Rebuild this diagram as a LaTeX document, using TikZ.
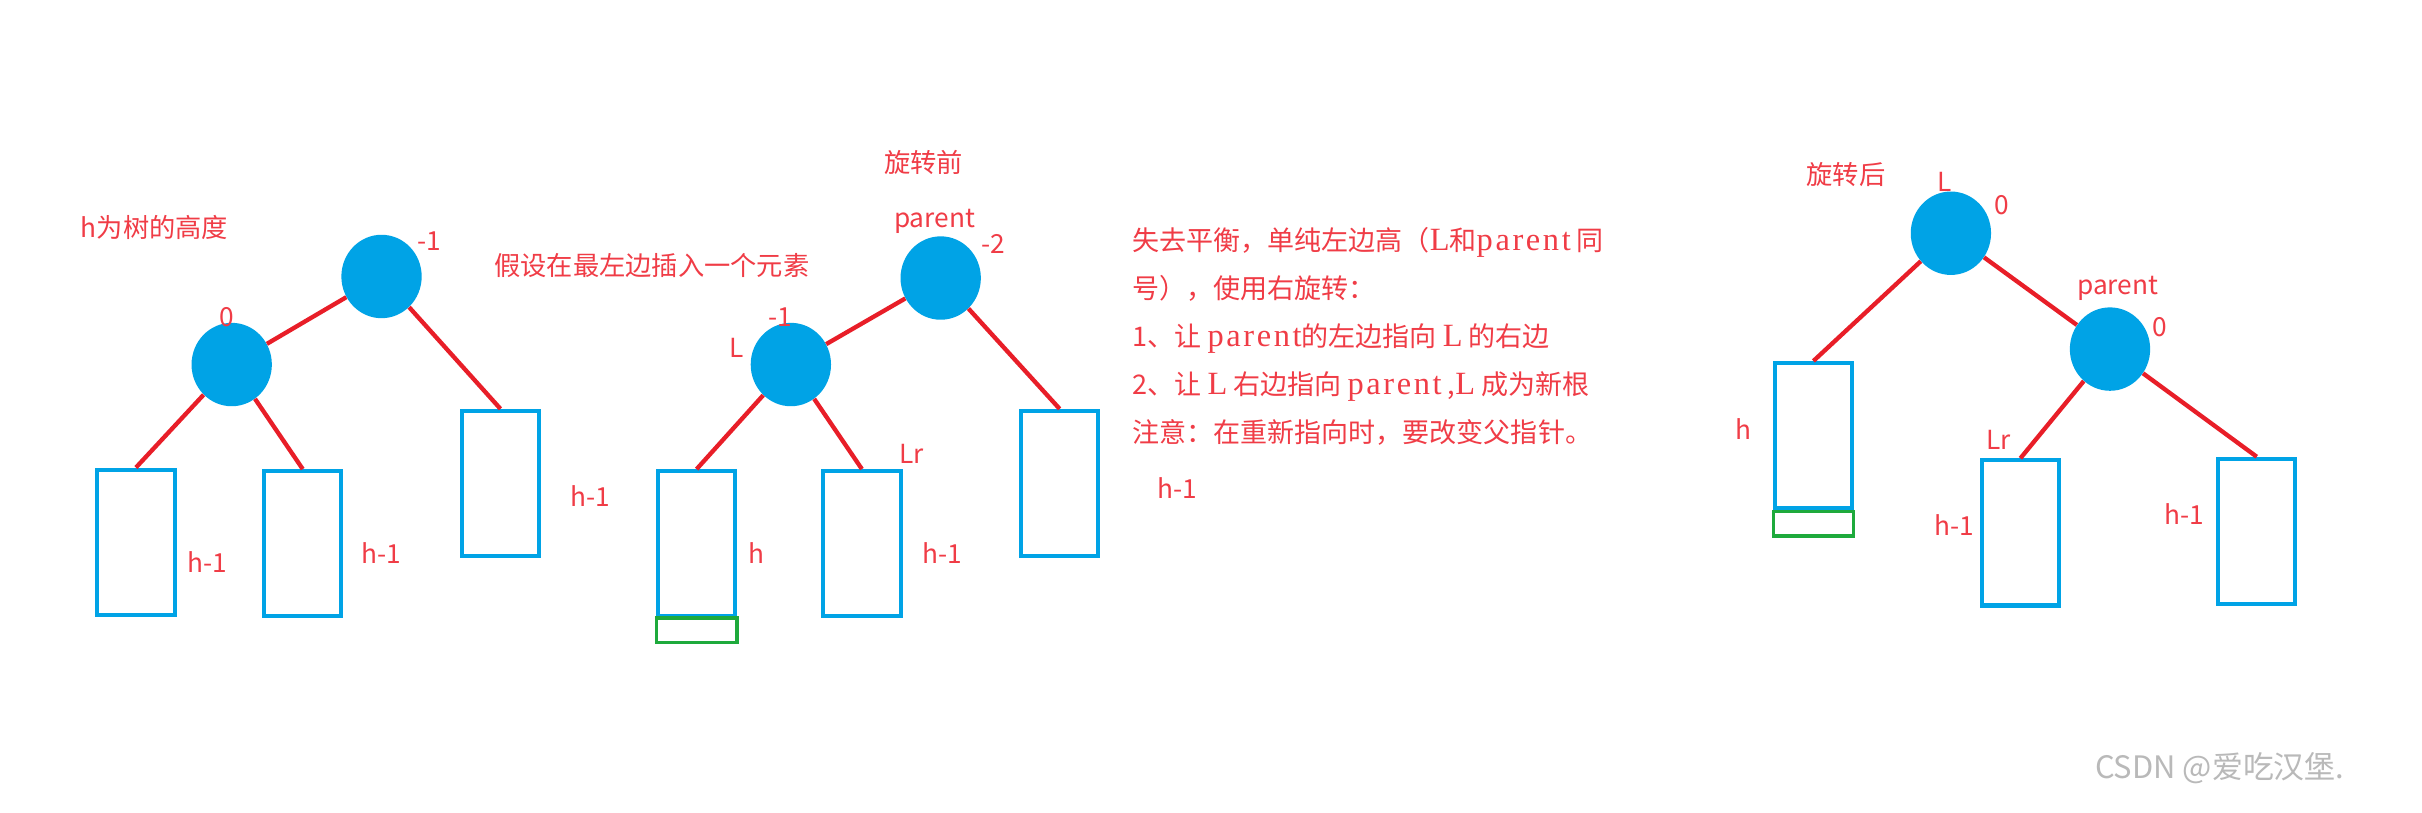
\documentclass[tikz,border=0pt]{standalone}
\usepackage{fontspec}
\setmainfont{Noto Sans CJK SC}
\newfontfamily\serifpart[Scale=1.2,LetterSpace=8]{Liberation Serif}
\usepackage{tikz}
\usetikzlibrary{shapes.geometric}
\definecolor{nodeblue}{RGB}{0,163,230}
\definecolor{edgered}{RGB}{232,30,40}
\definecolor{txtred}{RGB}{240,60,70}
\definecolor{newgreen}{RGB}{30,170,60}
\begin{document}
\begin{tikzpicture}[x=1pt,y=-1pt,
    ball/.style={ellipse,fill=nodeblue,minimum width=52pt,minimum height=54pt,inner sep=0pt},
    sub/.style={draw=nodeblue,line width=2.6pt,minimum width=50pt,minimum height=94pt,inner sep=0pt},
    added/.style={draw=newgreen,line width=2.2pt,minimum width=52pt,minimum height=16pt,inner sep=0pt},
    edge/.style={draw=edgered,line width=2.8pt},
    lab/.style={text=txtred,font=\fontsize{17}{20}\selectfont,inner sep=1pt},
    note/.style={text=txtred,font=\fontsize{17.5}{31}\selectfont,align=left,anchor=north west,inner sep=0pt}]
    \useasboundingbox[fill=white] (0,0) rectangle (1568,526);
    % before insertion
    \node[lab] (title1) at (100,147) {h为树的高度};
    \node[ball] (r1) at (247,179) {};
    \node[ball] (c1) at (150,236) {};
    \node[sub] (b1) at (88,351) {};
    \node[sub] (b2) at (196,352) {};
    \node[sub] (b3) at (324,313) {};
    \draw[edge] (r1) -- (c1) (r1) -- (b3.north) (c1) -- (b1.north) (c1) -- (b2.north);
    \node[lab] (br1) at (278,156) {-1};
    \node[lab] (bc1) at (147,205) {0};
    \node[lab] (hb1) at (134,364) {h-1};
    \node[lab] (hb2) at (247,358) {h-1};
    \node[lab] (hb3) at (382,321) {h-1};
    \node[lab] (ins) at (422,172) {假设在最左边插入一个元素};
    % before rotation
    \node[lab] (title2) at (598,105) {旋转前};
    \node[ball] (p2) at (609,180) {};
    \node[ball] (l2) at (512,236) {};
    \node[sub] (d1) at (451,352) {};
    \node[added] (g1) at (451,408) {};
    \node[sub] (d2) at (558,352) {};
    \node[sub] (d3) at (686,313) {};
    \draw[edge] (p2) -- (l2) (p2) -- (d3.north) (l2) -- (d1.north) (l2) -- (d2.north);
    \node[lab] (np2) at (605,143) {parent};
    \node[lab] (bp2) at (643,158) {-2};
    \node[lab] (bl2) at (505,205) {-1};
    \node[lab] (nl2) at (477,225) {L};
    \node[lab] (hd1) at (490,358) {h};
    \node[lab] (nlr2) at (590,294) {Lr};
    \node[lab] (hd2) at (610,358) {h-1};
    \node[lab] (hd3) at (762,316) {h-1};
    \node[note] (explain) at (733,147) {失去平衡，单纯左边高（{\serifpart L}和{\serifpart parent} 同\\
      号），使用右旋转：\\
      1、让 {\serifpart parent}的左边指向 {\serifpart L} 的右边\\
      2、让 {\serifpart L} 右边指向 {\serifpart parent} ,{\serifpart L} 成为新根\\
      注意：在重新指向时，要改变父指针。};
    % after rotation
    \node[lab] (title3) at (1195,113) {旋转后};
    \node[ball] (l3) at (1263,151) {};
    \node[ball] (p3) at (1366,226) {};
    \node[sub] (e1) at (1174,282) {};
    \node[added] (g2) at (1174,339) {};
    \node[sub] (e2) at (1308,345) {};
    \node[sub] (e3) at (1461,344) {};
    \draw[edge] (l3) -- (p3) (l3) -- (e1.north) (p3) -- (e2.north) (p3) -- (e3.north);
    \node[lab] (nl3) at (1259,118) {L};
    \node[lab] (bl3) at (1296,133) {0};
    \node[lab] (np3) at (1371,187) {parent};
    \node[lab] (bp3) at (1398,212) {0};
    \node[lab] (he1) at (1129,278) {h};
    \node[lab] (nlr3) at (1294,285) {Lr};
    \node[lab] (he2) at (1265,340) {h-1};
    \node[lab] (he3) at (1414,333) {h-1};
    \node[text=gray!55,font=\fontsize{20}{22}\selectfont] (mark) at (1437,497) {CSDN @爱吃汉堡.};
\end{tikzpicture}
\end{document}
